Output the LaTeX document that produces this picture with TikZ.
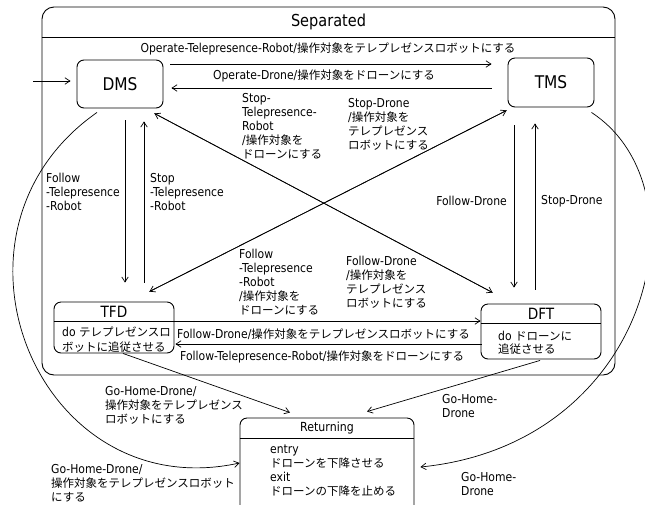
\documentclass[tikz,border=0pt]{standalone}
\usepackage{fontspec}
\setmainfont{DejaVu Sans}[FakeStretch=0.88]
\newfontfamily\jpfont{Noto Sans CJK JP}
\usetikzlibrary{arrows.meta,calc}
\newcommand\jp[1]{{\jpfont\fontsize{11.5}{14}\selectfont #1}}
\begin{document}
\begin{tikzpicture}[x=1pt,y=-1pt,
  lbl/.style={inner sep=0pt, align=left, font=\fontsize{12.3}{14}\selectfont},
  arr/.style={-{Straight Barb[length=5pt,width=6.5pt]}, line width=0.7pt},
  stbox/.style={draw, line width=0.9pt, rounded corners=7pt, inner sep=0pt},
  sepline/.style={line width=0.9pt}
]
\useasboundingbox (0,0) rectangle (645,504);
\clip (0,0) rectangle (645,504);

% outer composite state
\node[stbox, rounded corners=12pt, minimum width=573pt, minimum height=368pt] (Sep) at (328.5,191) {};
\node[font=\fontsize{16.5}{18}\selectfont, inner sep=0pt] (SepT) at (328.5,22) {Separated};
\draw[sepline] ($(Sep.north west)+(0,31)$) -- ($(Sep.north east)+(0,31)$);

% simple states
\node[stbox, minimum width=86pt, minimum height=48pt, font=\fontsize{17.5}{20}\selectfont] (DMS) at (120,84) {DMS};
\node[stbox, minimum width=86pt, minimum height=49pt, font=\fontsize{17.5}{20}\selectfont] (TMS) at (551,82.5) {TMS};

% TFD
\node[stbox, minimum width=120pt, minimum height=51pt] (TFD) at (114,327.5) {};
\node[font=\fontsize{15.5}{18}\selectfont, inner sep=0pt] (TFDt) at (114,312) {TFD};
\draw[sepline] ($(TFD.north west)+(0,20)$) -- ($(TFD.north east)+(0,20)$);
\node[lbl, anchor=west, font=\fontsize{12.3}{15}\selectfont] (TFDb) at (62,339.5) {do \jp{テレプレゼンスロ}\\\jp{ボットに追従させる}};

% DFT
\node[stbox, minimum width=120pt, minimum height=55pt] (DFT) at (541,331.5) {};
\node[font=\fontsize{15.5}{18}\selectfont, inner sep=0pt] (DFTt) at (541,314) {DFT};
\draw[sepline] ($(DFT.north west)+(0,20)$) -- ($(DFT.north east)+(0,20)$);
\node[lbl, anchor=west, font=\fontsize{12.3}{13}\selectfont] (DFTb) at (498,343) {do \jp{ドローンに}\\\jp{追従させる}};

% Returning
\node[stbox, minimum width=174pt, minimum height=94pt] (Ret) at (327,465) {};
\node[font=\fontsize{12.5}{14}\selectfont, inner sep=0pt] (RetT) at (327,428) {Returning};
\draw[sepline] ($(Ret.north west)+(0,21)$) -- ($(Ret.north east)+(0,21)$);
\node[lbl, anchor=west] (RetB) at (270,471) {entry\\\jp{ドローンを下降させる}\\exit\\\jp{ドローンの下降を止める}};

% initial transition
\coordinate (init) at (33,81);
\draw[arr] (init) -- ($(DMS.west)+(-6,-3)$);

% DMS <-> TMS
\draw[arr] ($(DMS.east)+(7,-20)$) -- ($(TMS.west)+(-16,-18.5)$);
\draw[arr] ($(TMS.west)+(-16,5.5)$) -- ($(DMS.east)+(8,4)$);

% DMS <-> TFD
\draw[arr] ($(DMS.south)+(5,12)$) -- ($(TFD.north)+(11,-19)$);
\draw[arr] ($(TFD.north)+(30,-19)$) -- ($(DMS.south)+(24,13)$);

% TMS <-> DFT
\draw[arr] ($(TMS.south)+(-37,18)$) -- ($(DFT.north)+(-27,-16)$);
\draw[arr] ($(DFT.north)+(-6,-14)$) -- ($(TMS.south)+(-16,16)$);

% DMS <-> DFT diagonal
\draw[arr] ($(DMS.south east)+(-9,5)$) -- ($(DFT.north west)+(12,-11)$);
\draw[arr] ($(DFT.north west)+(12,-11)$) -- ($(DMS.south east)+(-9,5)$);

% TMS <-> TFD diagonal
\draw[arr] ($(TMS.south west)+(-1,3)$) -- ($(TFD.north east)+(-25,-10)$);
\draw[arr] ($(TFD.north east)+(-25,-10)$) -- ($(TMS.south west)+(-1,3)$);

% TFD <-> DFT
\draw[arr] ($(TFD.east)+(0,-6.5)$) -- ($(DFT.west)+(0,-10.5)$);
\draw[arr] ($(DFT.west)+(1,12.5)$) -- ($(TFD.east)+(1,16.5)$);

% to Returning
\draw[arr] ($(TFD.south)+(9,0)$) -- ($(Ret.north)+(-37,-5)$);
\draw[arr] ($(DFT.south)+(-1,1)$) -- ($(Ret.north)+(40,-6)$);
\draw[arr] ($(DMS.south)+(-23,4)$) .. controls (-74,232) and (37,507) .. ($(Ret.west)+(0,-2)$);
\draw[arr] ($(TMS.south east)+(-3,5)$) .. controls (708.6,189) and (651,444) .. ($(Ret.east)+(6,2)$);

% labels
\node[lbl] (l1) at (328,49) {Operate-Telepresence-Robot/\jp{操作対象をテレプレゼンスロボットにする}};
\node[lbl] (l2) at (324,76) {Operate-Drone/\jp{操作対象をドローンにする}};
\node[lbl, anchor=west] (l3) at (46,192) {Follow\\-Telepresence\\-Robot};
\node[lbl, anchor=west] (l4) at (150,192) {Stop\\-Telepresence\\-Robot};
\node[lbl, anchor=west] (l5) at (242,126) {Stop-\\Telepresence-\\Robot\\/\jp{操作対象を}\\\jp{ドローンにする}};
\node[lbl, anchor=west] (l6) at (348,124.5) {Stop-Drone\\/\jp{操作対象を}\\\jp{テレプレゼンス}\\\jp{ロボットにする}};
\node[lbl, anchor=east] (l7) at (507,201) {Follow-Drone};
\node[lbl, anchor=west] (l8) at (541,201) {Stop-Drone};
\node[lbl, anchor=west] (l9) at (239,282.5) {Follow\\-Telepresence\\-Robot\\/\jp{操作対象を}\\\jp{ドローンにする}};
\node[lbl, anchor=west] (l10) at (346,282) {Follow-Drone\\/\jp{操作対象を}\\\jp{テレプレゼンス}\\\jp{ロボットにする}};
\node[lbl, anchor=west] (l11) at (177,334) {Follow-Drone/\jp{操作対象をテレプレゼンスロボットにする}};
\node[lbl, anchor=west] (l12) at (180,357) {Follow-Telepresence-Robot/\jp{操作対象をドローンにする}};
\node[lbl, anchor=west] (l13) at (105,405) {Go-Home-Drone/\\\jp{操作対象をテレプレゼンス}\\\jp{ロボットにする}};
\node[lbl, anchor=west] (l14) at (442,406) {Go-Home-\\Drone};
\node[lbl, anchor=west] (l15) at (51,483) {Go-Home-Drone/\\\jp{操作対象をテレプレゼンスロボット}\\\jp{にする}};
\node[lbl, anchor=west] (l16) at (461,484) {Go-Home-\\Drone};
\end{tikzpicture}
\end{document}
